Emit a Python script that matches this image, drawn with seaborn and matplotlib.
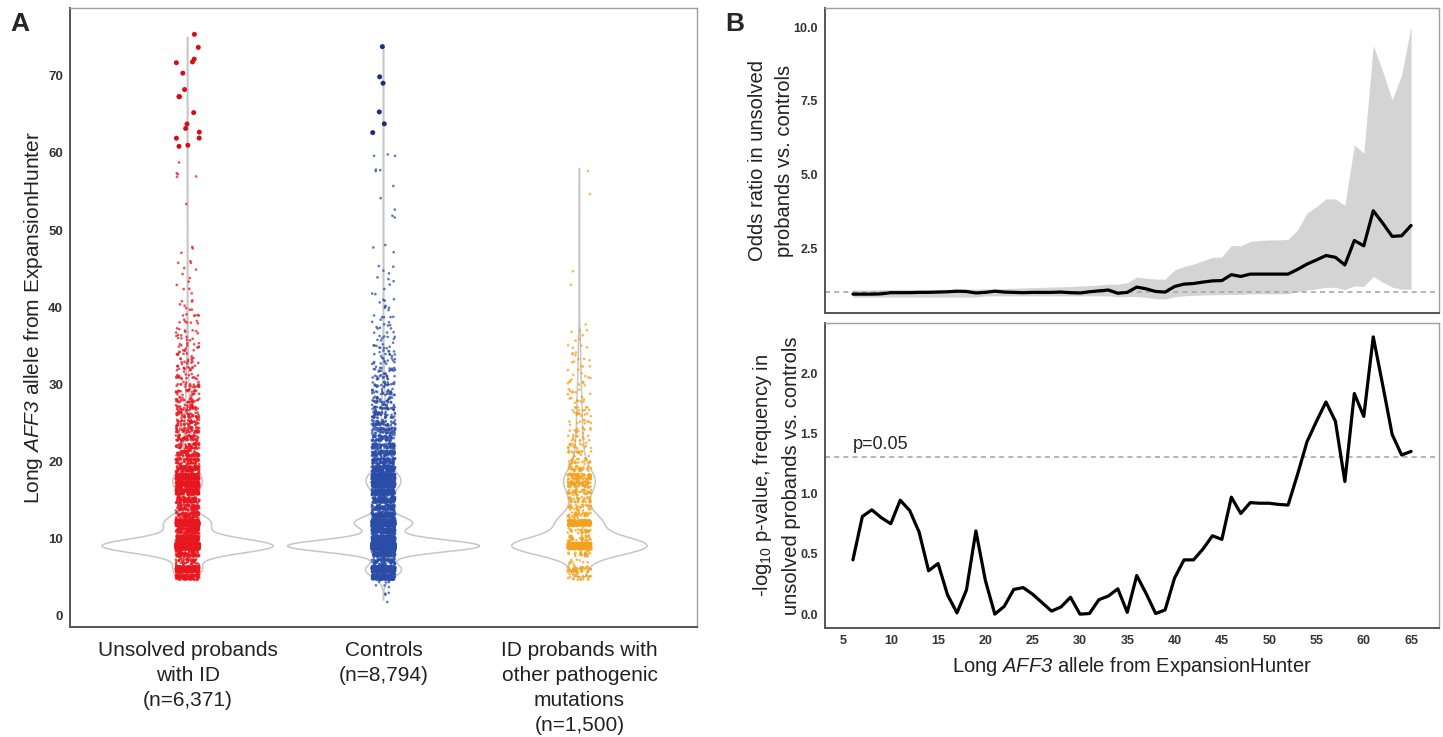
import numpy as np
import pandas as pd
import seaborn as sns
import matplotlib.pyplot as plt

sns.set_theme(style="white")
plt.rcParams["font.family"] = ["Liberation Sans", "DejaVu Sans"]
plt.rcParams["mathtext.fontset"] = "custom"
plt.rcParams["mathtext.rm"] = "Liberation Sans"
plt.rcParams["mathtext.it"] = "Liberation Sans:italic"
# \mathbf is used only for the gene name: italic letters and digit alike
plt.rcParams["mathtext.bf"] = "Liberation Sans:italic"

# ---------------- panel A data: allele length -> number of samples ----------------
groups = ["Unsolved probands\nwith ID\n(n=6,371)",
          "Controls\n(n=8,794)",
          "ID probands with\nother pathogenic\nmutations\n(n=1,500)"]

unsolved_alleles = [5, 6, 7, 8, 9, 10, 11, 12, 13, 14, 15, 16, 17, 18, 19, 20, 21, 22, 23, 24,
                    25, 26, 27, 28, 29, 30, 31, 32, 33, 34, 35, 36, 37, 38, 39, 40, 41, 42, 43, 44,
                    45, 46, 47, 48, 53, 57, 59, 61, 62, 63, 64, 65, 67, 68, 70, 72, 74, 75]
unsolved_counts = [120, 420, 52, 100, 2950, 170, 130, 700, 100, 80, 100, 150, 260, 280, 110, 70, 70, 60, 55, 50,
                   45, 40, 35, 30, 25, 22, 18, 16, 14, 12, 11, 9, 8, 7, 6, 5, 3, 3, 2, 2,
                   2, 3, 1, 2, 1, 4, 1, 2, 2, 2, 1, 1, 2, 1, 1, 3, 1, 1]

control_alleles = [2, 3, 4, 5, 6, 7, 8, 9, 10, 11, 12, 13, 14, 15, 16, 17, 18, 19, 20, 21,
                   22, 23, 24, 25, 26, 27, 28, 29, 30, 31, 32, 33, 34, 35, 36, 37, 38, 39, 40, 41,
                   42, 43, 44, 45, 47, 48, 52, 53, 54, 56, 58, 60, 63, 64, 65, 69, 70, 74]
control_counts = [1, 3, 6, 200, 620, 80, 160, 3800, 280, 200, 1045, 160, 120, 150, 230, 400, 420, 170, 110, 90,
                  75, 65, 58, 50, 44, 38, 32, 27, 23, 19, 16, 14, 12, 10, 8, 7, 6, 5, 5, 4,
                  3, 2, 3, 3, 1, 2, 2, 1, 1, 1, 3, 3, 1, 1, 1, 1, 1, 1]

other_alleles = [5, 6, 7, 8, 9, 10, 11, 12, 13, 14, 15, 16, 17, 18, 19, 20, 21, 22, 23, 24,
                 25, 26, 27, 28, 29, 30, 31, 32, 33, 34, 35, 36, 37, 38, 43, 45, 55, 58]
other_counts = [25, 50, 10, 25, 658, 37, 27, 180, 35, 30, 35, 40, 70, 75, 30, 23, 18, 16, 14, 12,
                10, 11, 10, 9, 8, 7, 6, 5, 5, 4, 4, 3, 3, 1, 1, 1, 1, 1]

point_colors = ["#E8161E", "#2B4DA8", "#F4A11D"]
big_colors = ["#D40F18", "#1C2F7A", "#E08A00"]

# ---------------- panel B data: sliding threshold on long allele ----------------
allele_len = list(range(6, 66))
odds_ratio = [0.94, 0.94, 0.94, 0.95, 0.99, 0.99, 0.99, 1.00, 1.00, 1.01,
              1.02, 1.04, 1.03, 0.98, 1.00, 1.04, 1.01, 1.00, 0.99, 1.00,
              1.00, 1.00, 1.01, 0.99, 0.98, 1.02, 1.05, 1.08, 0.97, 1.00,
              1.18, 1.12, 1.03, 1.01, 1.20, 1.28, 1.30, 1.35, 1.39, 1.40,
              1.60, 1.54, 1.62, 1.62, 1.62, 1.62, 1.62, 1.78, 1.96, 2.10,
              2.25, 2.19, 1.93, 2.76, 2.58, 3.77, 3.35, 2.90, 2.92, 3.27]
or_lower = [0.84, 0.84, 0.84, 0.84, 0.84, 0.84, 0.84, 0.84, 0.84, 0.84,
            0.84, 0.84, 0.84, 0.84, 0.88, 0.88, 0.88, 0.88, 0.88, 0.88,
            0.88, 0.88, 0.88, 0.88, 0.88, 0.88, 0.88, 0.88, 0.85, 0.86,
            0.86, 0.83, 0.79, 0.77, 0.85, 0.88, 0.90, 0.91, 0.92, 0.92,
            0.93, 0.93, 0.95, 0.95, 0.95, 0.95, 0.95, 1.02, 1.08, 1.12,
            1.17, 1.17, 1.09, 1.22, 1.20, 1.54, 1.34, 1.18, 1.11, 1.11]
or_upper = [1.08, 1.08, 1.08, 1.09, 1.10, 1.10, 1.10, 1.10, 1.10, 1.10,
            1.10, 1.11, 1.11, 1.11, 1.12, 1.12, 1.13, 1.14, 1.15, 1.16,
            1.17, 1.18, 1.19, 1.20, 1.22, 1.23, 1.25, 1.28, 1.28, 1.33,
            1.52, 1.48, 1.45, 1.45, 1.76, 1.88, 1.96, 2.07, 2.19, 2.20,
            2.59, 2.58, 2.73, 2.76, 2.78, 2.78, 2.80, 3.12, 3.69, 3.91,
            4.17, 4.17, 3.95, 6.00, 5.72, 9.38, 8.50, 7.53, 8.38, 10.04]
neg_log10_p = [0.45, 0.81, 0.865, 0.80, 0.75, 0.945, 0.86, 0.68, 0.36, 0.42,
               0.16, 0.01, 0.20, 0.69, 0.28, 0.00, 0.065, 0.205, 0.22, 0.165,
               0.095, 0.025, 0.06, 0.14, 0.00, 0.005, 0.12, 0.15, 0.21, 0.015,
               0.32, 0.17, 0.005, 0.035, 0.30, 0.45, 0.45, 0.54, 0.65, 0.62,
               0.97, 0.835, 0.925, 0.92, 0.92, 0.91, 0.905, 1.16, 1.43, 1.60,
               1.76, 1.60, 1.10, 1.83, 1.64, 2.30, 1.90, 1.49, 1.32, 1.35]

# ---------------- build long table for panel A ----------------
frames = []
for g, al, ct in zip(groups, [unsolved_alleles, control_alleles, other_alleles],
                     [unsolved_counts, control_counts, other_counts]):
    frames.append(pd.DataFrame({"group": g, "allele": np.repeat(al, ct)}))
df = pd.DataFrame(pd.concat(frames, ignore_index=True))
# display jitter in the value direction, like geom_jitter(height=0.4)
rng = np.random.default_rng(3)
df["allele_jit"] = df["allele"] + rng.uniform(-0.4, 0.4, len(df))
df["big"] = df["allele"] > 60
np.random.seed(1)

fig = plt.figure(figsize=(14.43, 7.37), dpi=100)
axA = fig.add_axes([70 / 1443, 1 - 627 / 737, 627 / 1443, 619 / 737])
axB1 = fig.add_axes([825 / 1443, 1 - 313 / 737, 614 / 1443, 305 / 737])
axB2 = fig.add_axes([825 / 1443, 1 - 628 / 737, 614 / 1443, 305 / 737])

gene_label = r"Long $\mathbf{AFF3}$ allele from ExpansionHunter"

# points
sns.stripplot(data=df[~df["big"]], x="group", y="allele_jit", hue="group", order=groups,
              hue_order=groups, palette=point_colors, size=1.9, jitter=0.06, alpha=0.75,
              linewidth=0, legend=False, ax=axA)
sns.stripplot(data=df[df["big"]], x="group", y="allele_jit", hue="group", order=groups,
              hue_order=groups, palette=big_colors, size=3.6, jitter=0.06,
              linewidth=0, legend=False, ax=axA)
# violin outlines on top
sns.violinplot(data=df, x="group", y="allele", order=groups, fill=False, color="#c6c6c6",
               linewidth=1.1, inner=None, cut=0, density_norm="area", bw_method="scott",
               bw_adjust=0.8, gridsize=1500, width=0.98, ax=axA)

axA.set_xlim(-0.6, 2.6)
axA.set_ylim(-1.5, 78.8)
axA.set_yticks([0, 10, 20, 30, 40, 50, 60, 70])
axA.set_xlabel("")
axA.set_ylabel(gene_label, fontsize=15, color="#222222", labelpad=2)
axA.tick_params(axis="x", labelsize=15, labelcolor="#222222", length=3, width=0.8, color="#444444", pad=7)
axA.tick_params(axis="y", labelsize=9.5, labelcolor="#333333", length=3, width=0.8, color="#444444", pad=2)
for lab in axA.get_yticklabels():
    lab.set_fontweight("bold")
for lab in axA.get_xticklabels():
    lab.set_linespacing(1.4)

# ---------------- panel B ----------------
axB1.fill_between(allele_len, or_lower, or_upper, color="#d4d4d4", lw=0, zorder=1)
axB1.axhline(1, color="#a8a8a8", lw=1.2, ls=(0, (3, 2.5)), zorder=2)
sns.lineplot(x=allele_len, y=odds_ratio, color="black", lw=2.3, ax=axB1, zorder=3)
axB1.set_xlim(3.05, 67.95)
axB1.set_ylim(0.3, 10.65)
axB1.set_yticks([2.5, 5.0, 7.5, 10.0])
axB1.set_yticklabels(["2.5", "5.0", "7.5", "10.0"])
axB1.set_xticks([])
axB1.set_ylabel("Odds ratio in unsolved\nprobands vs. controls", fontsize=14.5, color="#222222",
                linespacing=1.5, labelpad=0)

axB2.axhline(-np.log10(0.05), color="#a8a8a8", lw=1.2, ls=(0, (3, 2.5)), zorder=1)
sns.lineplot(x=allele_len, y=neg_log10_p, color="black", lw=2.3, ax=axB2, zorder=3)
axB2.text(6.0, 1.41, "p=0.05", fontsize=13, color="#222222", va="center", ha="left")
axB2.set_xlim(3.05, 67.95)
axB2.set_ylim(-0.115, 2.415)
axB2.set_xticks(range(5, 70, 5))
axB2.set_yticks([0.0, 0.5, 1.0, 1.5, 2.0])
axB2.set_yticklabels(["0.0", "0.5", "1.0", "1.5", "2.0"])
axB2.set_xlabel(gene_label, fontsize=14.5, color="#222222", labelpad=6)
axB2.set_ylabel("-log$_{10}$ p-value, frequency in\nunsolved probands vs. controls", fontsize=14.5,
                color="#222222", linespacing=1.5, labelpad=0)

for ax in (axB1, axB2):
    ax.tick_params(labelsize=9, labelcolor="#333333", length=3, width=0.8, color="#444444", pad=2)
    for lab in ax.get_yticklabels() + ax.get_xticklabels():
        lab.set_fontweight("bold")

for ax in (axA, axB1, axB2):
    for side in ("top", "right"):
        ax.spines[side].set_color("#a0a0a0")
        ax.spines[side].set_linewidth(1.0)
    for side in ("left", "bottom"):
        ax.spines[side].set_color("#555555")
        ax.spines[side].set_linewidth(1.4)

fig.text(10 / 1443, 1 - 12 / 737, "A", fontsize=19, fontweight="bold", va="top", ha="left")
fig.text(725 / 1443, 1 - 12 / 737, "B", fontsize=19, fontweight="bold", va="top", ha="left")

fig.savefig("out.png", dpi=100)
